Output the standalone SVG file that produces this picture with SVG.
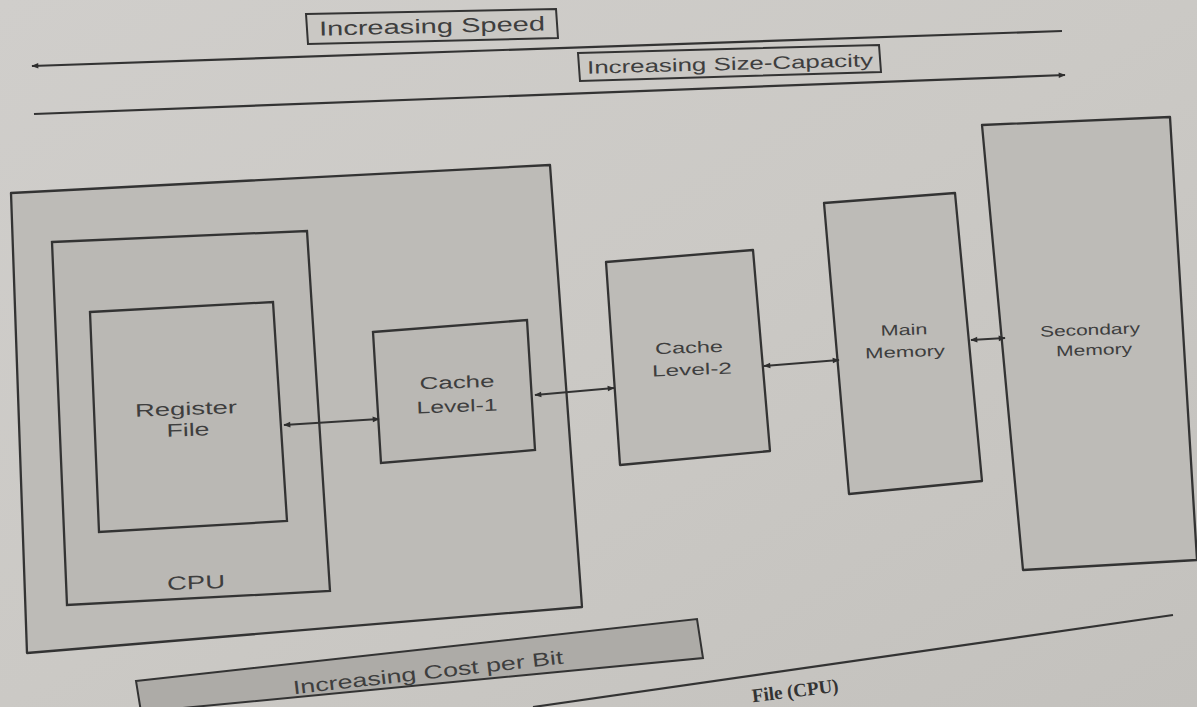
<svg xmlns="http://www.w3.org/2000/svg" width="1197" height="707" viewBox="0 0 1197 707">
<defs>
<linearGradient id="paper" x1="0" y1="0" x2="1" y2="1">
<stop offset="0" stop-color="#d0cecb"/>
<stop offset="0.5" stop-color="#cbc9c5"/>
<stop offset="1" stop-color="#c3c1bd"/>
</linearGradient>
<marker id="ah" viewBox="0 0 10 10" refX="9" refY="5" markerWidth="10" markerHeight="7" orient="auto-start-reverse" markerUnits="userSpaceOnUse">
<path d="M0,1 L10,5 L0,9 Z" fill="#2e2e2e"/>
</marker>
<style>
.box{fill:#bdbbb7;stroke:#333;stroke-width:2.3;stroke-linejoin:round}
.inner{fill:#bab8b4;stroke:#333;stroke-width:2.3}
.lbl{font-family:"Liberation Sans",Arial,sans-serif;fill:#3e3e3e;text-anchor:middle}
.conn{stroke:#333;stroke-width:2.2;fill:none}
.rule{stroke:#333;stroke-width:2.2;fill:none}
.tag{fill:#cac8c4;stroke:#333;stroke-width:2}
</style>
</defs>
<rect width="1197" height="707" fill="url(#paper)"/>

<g id="speed-label">
<polygon class="tag" points="306,14 556,9 558,38 308,44"/>
<text class="lbl" x="432" y="33" font-size="20" textLength="226" lengthAdjust="spacingAndGlyphs" transform="rotate(-1.3 432 26)">Increasing Speed</text>
</g>
<g id="size-label">
<polygon class="tag" points="578,53 879,45 881,72 580,81"/>
<text class="lbl" x="730" y="70" font-size="18" textLength="286" lengthAdjust="spacingAndGlyphs" transform="rotate(-1.5 730 63)">Increasing Size-Capacity</text>
</g>

<g id="outer-chip">
<polygon class="box" points="11,193 550,165 582,607 27,653"/>
</g>
<g id="cpu">
<polygon class="inner" points="52,242 307,231 330,591 67,605"/>
<text class="lbl" x="196" y="589" font-size="19" textLength="58" lengthAdjust="spacingAndGlyphs" transform="rotate(-2 196 582)">CPU</text>
</g>
<g id="register-file">
<polygon class="inner" points="90,312 273,302 287,521 99,532"/>
<text class="lbl" x="186" y="415" font-size="18" textLength="102" lengthAdjust="spacingAndGlyphs" transform="rotate(-2 186 409)">Register</text>
<text class="lbl" x="188" y="436" font-size="18" textLength="43" lengthAdjust="spacingAndGlyphs" transform="rotate(-2 188 430)">File</text>
</g>
<g id="cache-l1">
<polygon class="inner" points="373,332 527,320 535,450 381,463"/>
<text class="lbl" x="457" y="388" font-size="17" textLength="75" lengthAdjust="spacingAndGlyphs" transform="rotate(-2 457 382)">Cache</text>
<text class="lbl" x="457" y="412" font-size="17" textLength="81" lengthAdjust="spacingAndGlyphs" transform="rotate(-2 457 406)">Level-1</text>
</g>
<g id="cache-l2">
<polygon class="box" points="606,262 753,250 770,451 620,465"/>
<text class="lbl" x="689" y="353" font-size="16" textLength="68" lengthAdjust="spacingAndGlyphs" transform="rotate(-2 689 347)">Cache</text>
<text class="lbl" x="692" y="375" font-size="16" textLength="80" lengthAdjust="spacingAndGlyphs" transform="rotate(-2 692 369)">Level-2</text>
</g>
<g id="main-memory">
<polygon class="box" points="824,203 955,193 982,481 849,494"/>
<text class="lbl" x="904" y="335" font-size="15" textLength="47" lengthAdjust="spacingAndGlyphs" transform="rotate(-2 904 330)">Main</text>
<text class="lbl" x="905" y="357" font-size="15" textLength="80" lengthAdjust="spacingAndGlyphs" transform="rotate(-2 905 352)">Memory</text>
</g>
<g id="secondary-memory">
<polygon class="box" points="982,125 1170,117 1197,560 1023,570"/>
<text class="lbl" x="1090" y="335" font-size="15" textLength="100" lengthAdjust="spacingAndGlyphs" transform="rotate(-2 1090 330)">Secondary</text>
<text class="lbl" x="1094" y="355" font-size="15" textLength="76" lengthAdjust="spacingAndGlyphs" transform="rotate(-2 1094 350)">Memory</text>
</g>

<g id="cost-label">
<polygon points="136,681 697,619 703,658 141,712" fill="#adaba7" stroke="#333" stroke-width="2"/>
<text class="lbl" x="428" y="679" font-size="19" textLength="272" lengthAdjust="spacingAndGlyphs" transform="rotate(-6.5 428 672)">Increasing Cost per Bit</text>
</g>

<g id="connectors">
<line class="rule" x1="1062" y1="31" x2="32" y2="66" marker-end="url(#ah)"/>
<line class="rule" x1="34" y1="114" x2="1065" y2="75" marker-end="url(#ah)"/>
<line class="rule" x1="533" y1="707" x2="1173" y2="615"/>
<line class="conn" x1="284" y1="425" x2="379" y2="419" marker-start="url(#ah)" marker-end="url(#ah)"/>
<line class="conn" x1="535" y1="395" x2="614" y2="388" marker-start="url(#ah)" marker-end="url(#ah)"/>
<line class="conn" x1="764" y1="366" x2="839" y2="360" marker-start="url(#ah)" marker-end="url(#ah)"/>
<line class="conn" x1="971" y1="340" x2="1005" y2="338" marker-start="url(#ah)" marker-end="url(#ah)"/>
</g>

<text x="795" y="697" font-family="'Liberation Serif',serif" font-weight="bold" font-size="19" fill="#333" text-anchor="middle" transform="rotate(-7 795 690)">File (CPU)</text>
</svg>
